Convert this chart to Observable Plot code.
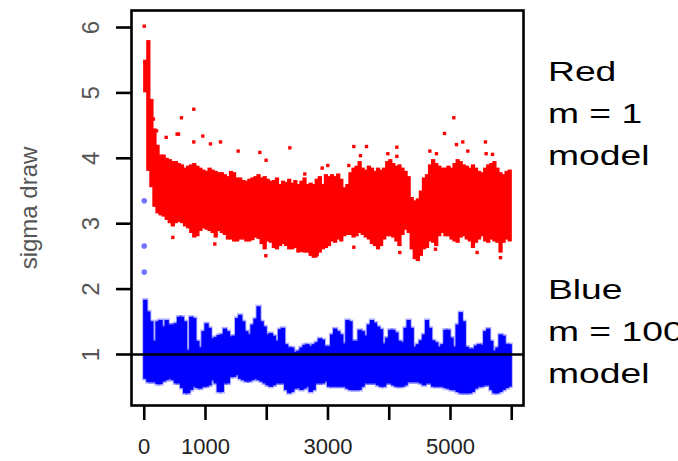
<!DOCTYPE html>
<html><head><meta charset="utf-8">
<script src="https://cdn.jsdelivr.net/npm/d3@7"></script>
<script src="https://cdn.jsdelivr.net/npm/@observablehq/plot@0.6"></script>
<style>
body{margin:0;background:#fff;}
#wrap{position:relative;width:678px;height:461px;overflow:hidden;background:#fff;}
.lab{position:absolute;left:548px;font-family:"Liberation Sans",Arial,sans-serif;font-size:28px;line-height:42px;color:#000;transform:scaleX(1.33);transform-origin:0 0;white-space:nowrap;}
</style></head><body>
<div id="wrap"></div>
<script>
// iterations are grouped in bins of this many draws
const binWidth = 50;

// Red (m = 1 model): dense band of sigma draws per bin (low / high)
const redHi = [5.5,5.8,4.9,4.45,4.2,4.05,4.05,4.0,3.98,3.95,
  3.95,3.92,3.9,3.85,3.88,3.9,3.92,3.88,3.85,3.82,
  3.8,3.85,3.82,3.8,3.78,3.78,3.75,3.72,3.8,3.78,
  3.7,3.7,3.66,3.65,3.68,3.7,3.72,3.75,3.7,3.72,
  3.68,3.65,3.66,3.7,3.6,3.65,3.63,3.68,3.62,3.66,
  3.6,3.65,3.7,3.6,3.62,3.6,3.68,3.72,3.6,3.75,
  3.72,3.75,3.72,3.76,3.68,3.55,3.6,3.78,3.85,3.88,
  3.95,3.85,3.82,3.88,3.85,3.8,3.85,3.82,3.85,3.95,
  3.98,3.92,3.88,3.9,3.85,3.8,3.72,3.4,3.35,3.38,
  3.5,3.7,3.75,3.9,3.98,3.92,3.88,3.85,3.85,3.88,
  3.85,3.92,3.98,3.95,3.9,3.88,3.85,3.9,3.85,3.8,
  3.78,3.85,3.9,3.92,3.95,3.85,3.78,3.75,3.8,3.82];
const redLo = [5.0,3.8,3.55,3.25,3.15,3.12,3.1,3.05,3.0,2.95,
  3.0,3.02,3.0,2.95,2.92,2.85,2.78,2.8,2.88,2.92,
  2.9,2.88,2.85,2.78,2.88,2.85,2.82,2.75,2.75,2.72,
  2.72,2.75,2.75,2.72,2.72,2.74,2.78,2.76,2.68,2.6,
  2.72,2.7,2.62,2.6,2.65,2.68,2.65,2.6,2.6,2.62,
  2.55,2.56,2.55,2.55,2.5,2.47,2.5,2.55,2.6,2.62,
  2.65,2.72,2.7,2.75,2.72,2.8,2.82,2.82,2.78,2.8,
  2.85,2.82,2.78,2.75,2.68,2.65,2.6,2.65,2.75,2.8,
  2.8,2.78,2.72,2.65,2.82,2.9,2.85,2.6,2.45,2.42,
  2.5,2.6,2.62,2.72,2.7,2.65,2.8,2.85,2.8,2.8,
  2.75,2.72,2.7,2.78,2.8,2.75,2.72,2.62,2.7,2.75,
  2.8,2.72,2.7,2.75,2.72,2.7,2.55,2.7,2.75,2.72];
// Red isolated draws (iteration, sigma)
const redOutIter = [0,10,150,200,358,537,560,608,809,809,956,1081,1245,1533,1887,1990,2377,2621,2905,2997,
  3340,3422,3530,3629,3977,4124,4124,4663,4771,4902,5054,5098,5201,5283,5571,5582,5686,
  467,1152,1985,2806,3422,4173,4755,5435,5816];
const redOutVal = [6.02,5.47,4.6,4.42,4.32,4.37,4.37,4.62,4.75,4.25,4.34,4.22,4.25,4.11,4.09,3.97,4.16,3.76,3.85,3.89,
  3.89,4.18,4.04,4.18,4.07,4.17,4.03,4.11,4.07,4.38,4.62,4.21,4.25,4.11,4.25,4.07,4.06,
  2.79,2.69,2.51,2.51,2.64,2.56,2.61,2.56,2.48];

// Blue (m = 100 model)
const blueHi = [1.83,1.65,1.5,1.2,1.5,1.52,1.42,1.52,1.45,1.45,
  1.47,1.57,1.57,1.5,1.06,1.57,1.55,1.2,1.1,1.35,
  1.47,1.4,1.24,1.26,1.29,1.3,1.39,1.35,1.27,1.28,
  1.55,1.6,1.5,1.35,1.3,1.45,1.54,1.73,1.5,1.42,
  1.3,1.32,1.28,1.2,1.38,1.4,1.15,1.1,1.1,1.03,
  1.05,1.1,1.14,1.15,1.12,1.15,1.18,1.24,1.22,1.12,
  1.12,1.3,1.39,1.35,1.3,1.16,1.52,1.5,1.2,1.2,
  1.37,1.35,1.28,1.45,1.52,1.48,1.42,1.38,1.16,1.25,
  1.37,1.37,1.33,1.2,1.18,1.4,1.52,1.4,1.11,1.15,
  1.21,1.3,1.52,1.4,1.21,1.18,1.11,1.15,1.37,1.37,
  1.25,1.11,1.45,1.64,1.5,1.11,1.08,1.08,1.13,1.15,
  1.14,1.35,1.39,1.2,1.05,1.1,1.3,1.28,1.15,1.15];
const blueLo = [0.62,0.57,0.57,0.57,0.54,0.54,0.58,0.6,0.62,0.6,
  0.55,0.55,0.48,0.4,0.4,0.45,0.5,0.48,0.47,0.5,
  0.5,0.52,0.6,0.55,0.42,0.42,0.55,0.55,0.65,0.65,
  0.68,0.62,0.6,0.58,0.58,0.6,0.62,0.6,0.58,0.55,
  0.52,0.5,0.52,0.55,0.55,0.55,0.45,0.4,0.42,0.47,
  0.48,0.45,0.47,0.5,0.42,0.45,0.55,0.55,0.55,0.58,
  0.5,0.5,0.5,0.5,0.5,0.5,0.47,0.45,0.45,0.45,
  0.45,0.5,0.55,0.55,0.55,0.55,0.52,0.5,0.5,0.55,
  0.55,0.52,0.5,0.5,0.5,0.52,0.57,0.57,0.57,0.57,
  0.55,0.52,0.55,0.55,0.5,0.5,0.5,0.5,0.48,0.47,
  0.45,0.45,0.42,0.4,0.4,0.4,0.4,0.42,0.47,0.5,
  0.5,0.52,0.52,0.45,0.4,0.4,0.42,0.45,0.48,0.5];
// Blue early draws (iteration, sigma)
const blueOutIter = [0,0,0];
const blueOutVal = [3.35,2.66,2.26];

const refLine = [1];
const xTicks = [0,1000,2000,3000,4000,5000,6000];
const xTickLabels = ["0","1000","","3000","","5000",""];
const yTicks = [1,2,3,4,5,6];
const yTickLabels = ["1","2","3","4","5","6"];
const yLabel = "sigma draw";
const redLegend = ["Red","m = 1","model"];
const blueLegend = ["Blue","m = 100","model"];

const redBins = redHi.map((hi,i)=>({x1:i*binWidth,x2:(i+1)*binWidth,y1:redLo[i],y2:hi}));
const blueBins = blueHi.map((hi,i)=>({x1:i*binWidth,x2:(i+1)*binWidth,y1:blueLo[i],y2:hi}));
const redOut = redOutIter.map((x,i)=>({x,y:redOutVal[i]}));
const blueOut = blueOutIter.map((x,i)=>({x,y:blueOutVal[i]}));

const chart = Plot.plot({
  width:678, height:461,
  marginLeft:131, marginRight:155, marginTop:10, marginBottom:56,
  style:{fontFamily:"'Liberation Sans', Arial, sans-serif", fontSize:"23.5px", background:"#fff"},
  x:{domain:[-208,6192]},
  y:{domain:[0.22,6.26]},
  marks:[
    // soft halo around the blue draws
    Plot.rect(blueBins,{x1:"x1",x2:"x2",y1:"y1",y2:"y2",fill:"#0000ff",fillOpacity:0.3,inset:-1.6}),
    Plot.rect(blueBins,{x1:"x1",x2:"x2",y1:"y1",y2:"y2",fill:"#0000ff",insetLeft:-0.6,insetRight:-0.6}),
    Plot.dot(blueOut,{x:"x",y:"y",r:2.8,fill:"#0000ff",fillOpacity:0.55}),
    Plot.rect(redBins,{x1:"x1",x2:"x2",y1:"y1",y2:"y2",fill:"#ff0000",insetLeft:-0.6,insetRight:-0.6}),
    Plot.dot(redOut,{x:"x",y:"y",symbol:"square",r:1.9,fill:"#ff0000"}),
    Plot.ruleY(refLine,{stroke:"black",strokeWidth:2.6}),
    Plot.frame({stroke:"black",strokeWidth:2.6}),
    Plot.axisX({ticks:xTicks,tickFormat:(d,i)=>xTickLabels[i],tickSize:15,tickPadding:18,fontSize:22,strokeWidth:2.6,stroke:"black",fill:"#222",label:null}),
    Plot.axisY({ticks:yTicks,tickFormat:(d,i)=>yTickLabels[i],tickSize:15,tickPadding:18,tickRotate:-90,fontSize:24,strokeWidth:2.6,stroke:"black",fill:"#555",
      label:yLabel,labelAnchor:"center",labelOffset:112,labelArrow:"none"})
  ]
});
const wrap = document.getElementById("wrap");
wrap.appendChild(chart);
function addLegend(lines, top){
  const d = document.createElement("div");
  d.className = "lab";
  d.style.top = top + "px";
  d.innerHTML = lines.map(s=>`<div>${s}</div>`).join("");
  wrap.appendChild(d);
}
addLegend(redLegend, 51);
addLegend(blueLegend, 269);
</script>
</body></html>
